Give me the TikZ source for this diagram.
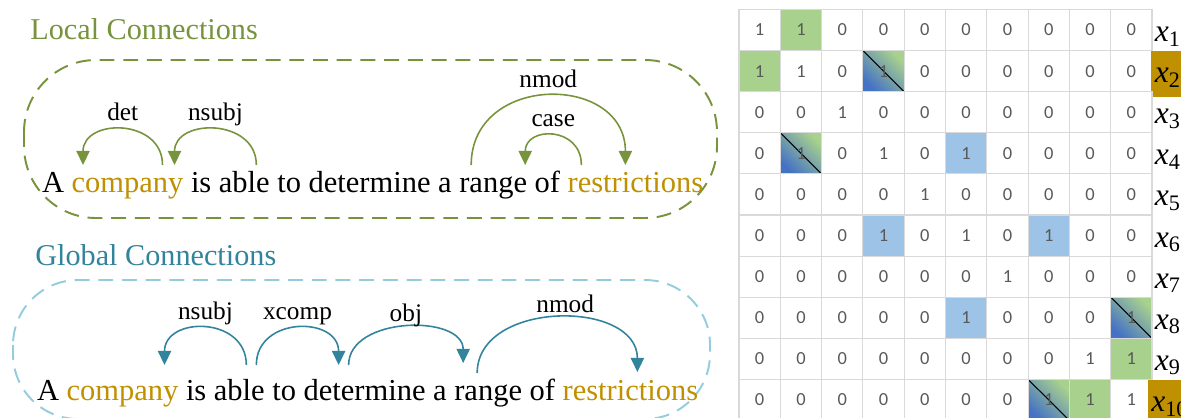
\documentclass[tikz,border=0pt]{standalone}
\usepackage{fontspec}
\setmainfont{Liberation Serif}
\newfontfamily\cellfont{Carlito}
\usetikzlibrary{positioning,arrows.meta}

\definecolor{localgreen}{HTML}{77933C}
\definecolor{globalteal}{HTML}{31849B}
\definecolor{boxblue}{HTML}{93CDDD}
\definecolor{wordgold}{HTML}{BF9000}
\definecolor{cellgreen}{HTML}{A9D18E}
\definecolor{cellblue}{HTML}{9DC3E6}
\definecolor{shadeblue}{HTML}{4472C4}
\definecolor{gridgray}{HTML}{D9D9D9}
\definecolor{numgray}{HTML}{595959}

\begin{document}
\begin{tikzpicture}[x=0.02cm, y=0.02cm,
    word/.style={inner sep=0pt, outer sep=0pt, font=\fontsize{17.35}{20}\selectfont},
    keyword/.style={word, text=wordgold},
    title/.style={anchor=base west, inner sep=0pt, font=\fontsize{17.2}{20}\selectfont},
    deplabel/.style={anchor=base, yshift=5pt, inner sep=0pt, text=black, font=\fontsize{14.4}{16}\selectfont},
    localarc/.style={localgreen, line width=0.9pt, -{Triangle[length=8pt,width=7.5pt]}},
    globalarc/.style={globalteal, line width=0.9pt, -{Triangle[length=8pt,width=7.5pt]}},
    localbox/.style={localgreen, line width=1.1pt, dash pattern=on 8.5pt off 5pt, rounded corners=1.44cm},
    globalbox/.style={boxblue, line width=1.1pt, dash pattern=on 8.5pt off 5pt, rounded corners=1.3cm},
    cell/.style={draw=gridgray, line width=0.6pt, minimum width=0.826cm, minimum height=0.822cm,
      inner sep=0pt, text=numgray, font=\cellfont\fontsize{10.5}{12}\selectfont},
    link cell/.style={fill=cellgreen},
    far cell/.style={fill=cellblue},
    split cell/.style={top color=cellgreen, bottom color=shadeblue, shading angle=-45,
      path picture={\draw[black, line width=0.6pt] (path picture bounding box.north west) -- (path picture bounding box.south east);}},
    hl 1-2/.style={link cell}, hl 2-1/.style={link cell},
    hl 9-10/.style={link cell}, hl 10-9/.style={link cell},
    hl 2-4/.style={split cell}, hl 4-2/.style={split cell},
    hl 8-10/.style={split cell}, hl 10-8/.style={split cell},
    hl 4-6/.style={far cell}, hl 6-4/.style={far cell},
    hl 6-8/.style={far cell}, hl 8-6/.style={far cell},
    rowlabel/.style={anchor=base west, inner xsep=2pt, inner ysep=0pt, text height=18pt, text depth=8pt,
      font=\fontsize{18}{20}\selectfont},
    lab 2/.style={fill=wordgold},
    lab 10/.style={fill=wordgold, xshift=-2pt},
    ]
   \useasboundingbox (0,0) rectangle (1181,-417);

   % local connections
   \node[title, text=localgreen] (localtitle) at (30,-39) {Local Connections};
   \draw[localbox] (24,-60) rectangle (717,-218);

   \node[word, anchor=base west] (l1) at (42,-192) {A};
   \node[keyword, base right=4.34pt of l1] (l2) {company};
   \node[word, base right=4.34pt of l2] (l3) {is};
   \node[word, base right=4.34pt of l3] (l4) {able};
   \node[word, base right=4.34pt of l4] (l5) {to};
   \node[word, base right=4.34pt of l5] (l6) {determine};
   \node[word, base right=4.34pt of l6] (l7) {a};
   \node[word, base right=4.34pt of l7] (l8) {range};
   \node[word, base right=4.34pt of l8] (l9) {of};
   \node[keyword, base right=4.34pt of l9] (l10) {restrictions};

   \draw[localarc] ([shift={(35,27)}]l2.base) .. controls +(0,47) and +(0,47) .. ([shift={(30,27)}]l1.base) node[deplabel, midway] {det};
   \draw[localarc] ([shift={(12,27)}]l4.base) .. controls +(0,47) and +(0,47) .. ([shift={(47,27)}]l2.base) node[deplabel, midway] {nsubj};
   \draw[localarc] ([shift={(-22,27)}]l8.base) .. controls +(0,92) and +(0,92) .. ([shift={(-10,27)}]l10.base) node[deplabel, midway] {nmod};
   \draw[localarc] ([shift={(34,27)}]l9.base) .. controls +(0,39) and +(0,39) .. ([shift={(32,27)}]l8.base) node[deplabel, midway] {case};

   % global connections
   \node[title, text=globalteal] (globaltitle) at (35,-265) {Global Connections};
   \draw[globalbox] (13,-280) rectangle (710,-419);

   \node[word, anchor=base west] (g1) at (37,-400) {A};
   \node[keyword, base right=4.34pt of g1] (g2) {company};
   \node[word, base right=4.34pt of g2] (g3) {is};
   \node[word, base right=4.34pt of g3] (g4) {able};
   \node[word, base right=4.34pt of g4] (g5) {to};
   \node[word, base right=4.34pt of g5] (g6) {determine};
   \node[word, base right=4.34pt of g6] (g7) {a};
   \node[word, base right=4.34pt of g7] (g8) {range};
   \node[word, base right=4.34pt of g8] (g9) {of};
   \node[keyword, base right=4.34pt of g9] (g10) {restrictions};

   \draw[globalarc] ([shift={(7,35)}]g4.base) .. controls +(0,49) and +(0,49) .. ([shift={(42,35)}]g2.base) node[deplabel, midway] {nsubj};
   \draw[globalarc] ([shift={(17,35)}]g4.base) .. controls +(0,49) and +(0,49) .. ([shift={(-26,35)}]g6.base) node[deplabel, midway] {xcomp};
   \draw[globalarc] ([shift={(-16,35)}]g6.base) .. controls +(0,49) and +(0,49) .. ([shift={(-25,37)}]g8.base) node[deplabel, midway, yshift=-2pt] {obj};
   \draw[globalarc] ([shift={(-11,27)}]g8.base) .. controls +(0,73) and +(0,73) .. ([shift={(7,28)}]g10.base) node[deplabel, midway, yshift=-2pt, xshift=4.5pt] {nmod};

   % adjacency matrix
   \foreach \row [count=\r] in {{1,1,0,0,0,0,0,0,0,0},{1,1,0,1,0,0,0,0,0,0},
       {0,0,1,0,0,0,0,0,0,0},{0,1,0,1,0,1,0,0,0,0},{0,0,0,0,1,0,0,0,0,0},
       {0,0,0,1,0,1,0,1,0,0},{0,0,0,0,0,0,1,0,0,0},{0,0,0,0,0,1,0,0,0,1},
       {0,0,0,0,0,0,0,0,1,1},{0,0,0,0,0,0,0,1,1,1}} {
     \foreach \v [count=\c] in \row
       \node[cell, hl \r-\c/.try] (m\r-\c) at ({739+41.3*(\c-0.5)}, {-9.5-41.1*(\r-0.5)}) {\v};
     \node[rowlabel, lab \r/.try] (x\r) at (1151, {-21-41.1*(\r-0.5)}) {\textit{x}\textsubscript{\r}};
   }
 \end{tikzpicture}
\end{document}
